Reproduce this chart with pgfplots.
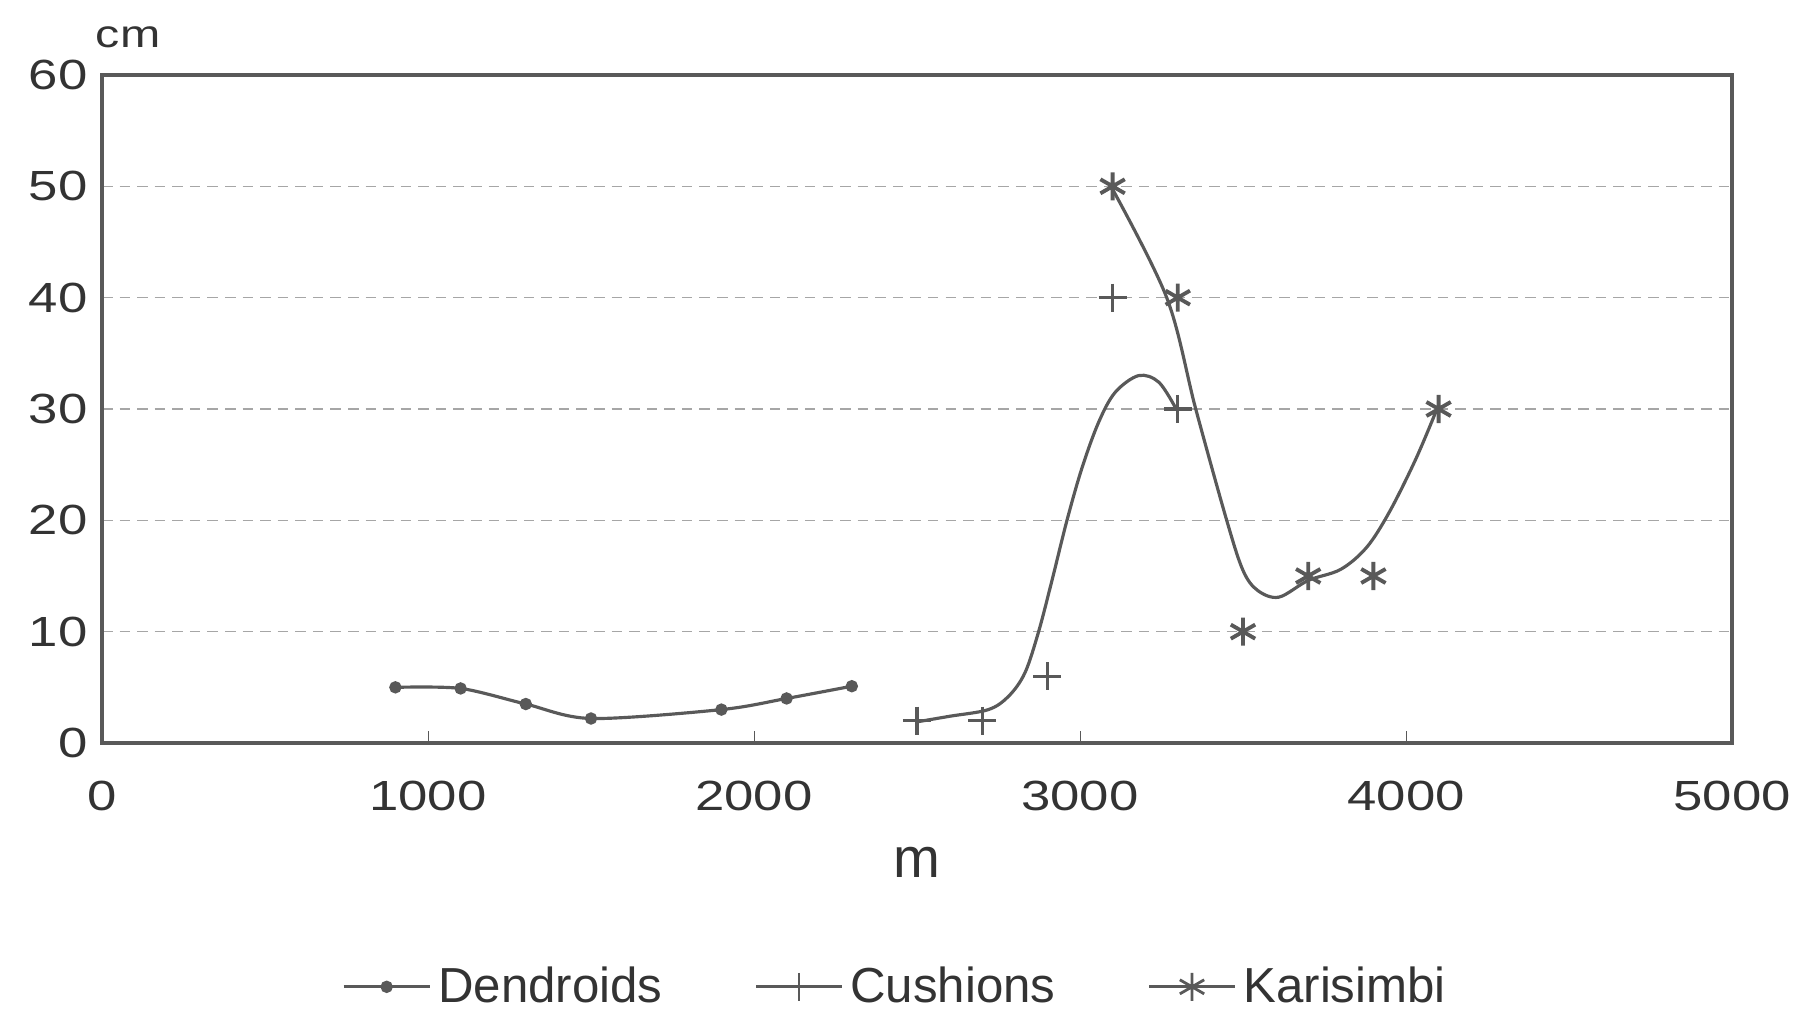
\documentclass[border=0pt]{standalone}
\usepackage{pgfplots}
\pgfplotsset{compat=1.18}
\usepackage{fontspec}
\setmainfont{Liberation Sans}
\newfontfamily\widefont[FakeStretch=1.25]{Liberation Sans}
\definecolor{ln}{gray}{0.35}
\definecolor{tx}{gray}{0.2}
\begin{document}
\begin{tikzpicture}
\path[use as bounding box] (-1.02cm,-2.74cm) rectangle (17.12cm,7.43cm);
\begin{axis}[
  scale only axis, width=16.3cm, height=6.68cm,
  xmin=0, xmax=5000, ymin=0, ymax=60,
  xtick={0,1000,2000,3000,4000,5000},
  ytick={0,10,20,30,40,50,60},
  /pgf/number format/assume math mode=true,
  scaled x ticks=false,
  xticklabel={\pgfmathprintnumber[1000 sep={}]{\tick}},
  tick label style={font=\widefont\fontsize{12}{14}\selectfont, text=tx},
  xticklabel style={yshift=-0.26cm},
  yticklabel style={xshift=-0.02cm},
  tick align=inside,
  major tick length=0.12cm,
  xtick pos=left,
  ytick pos=left,
  xtick style={draw=ln},
  ytick style={draw=none},
  ymajorgrids, grid style={densely dashed, gray!70, line width=0.45pt},
  axis line style={draw=ln, line width=0.9pt},
  xlabel={m},
  xlabel style={font=\fontsize{16}{18}\selectfont, text=tx, at={(axis description cs:0.5,-0.178)}, anchor=center},
  ylabel={cm},
  ylabel style={rotate=-90, font=\widefont\fontsize{11}{13}\selectfont, text=tx, at={(axis description cs:0.016,1.057)}, anchor=center},
  legend style={draw=none, fill=none, at={(axis description cs:0.488,-0.365)}, anchor=center,
     font=\fontsize{14}{16}\selectfont, text=tx,
     /tikz/every even column/.append style={column sep=0.85cm}},
  legend columns=3,
  legend image code/.code={\draw[mark repeat=2,mark phase=2,#1] plot coordinates {(0cm,0cm)(0.43cm,0cm)(0.86cm,0cm)};},
]
% Dendroids
\addplot[ln, line width=0.9pt, smooth, mark=*, mark size=1.3pt] coordinates {
 (900,5.0) (1100,4.9) (1300,3.5) (1500,2.2) (1900,3.0) (2100,4.0) (2300,5.1)};
\addlegendentry{Dendroids}
\addlegendimage{ln, line width=0.8pt, mark=+, mark size=4pt}
\addlegendentry{Cushions}
\addlegendimage{ln, line width=0.8pt, mark=asterisk, mark size=4pt}
\addlegendentry{Karisimbi}
% Cushions curve
\addplot[forget plot, ln, line width=0.9pt, smooth, tension=0.55] coordinates {
 (2500,1.9) (2600,2.4) (2719,3.0) (2781,4.2) (2831,6.3) (2873,10) (2914,14.6) (2960,20)
 (3006,24.7) (3057,28.8) (3108,31.5) (3180,33.0) (3242,32.4) (3295,30)};
% Cushions marks
\addplot[forget plot, only marks, ln, mark=+, mark size=4pt, line width=0.9pt] coordinates {
 (2500,2) (2700,2) (2900,6) (3100,40) (3300,30)};
% Karisimbi curve
\addplot[forget plot, ln, line width=0.9pt, smooth, tension=0.55] coordinates {
 (3095,50) (3266,40) (3355,30) (3450,20) (3500,15.5) (3545,13.7) (3610,13.1)
 (3700,14.6) (3800,15.6) (3880,17.6) (3950,20.8) (4030,25.5) (4095,30)};
% Karisimbi marks
\addplot[forget plot, only marks, ln, mark=asterisk, mark size=4pt, line width=1.1pt] coordinates {
 (3100,50) (3300,40) (3500,10) (3700,15) (3900,15) (4100,30)};
\end{axis}
\end{tikzpicture}
\end{document}
